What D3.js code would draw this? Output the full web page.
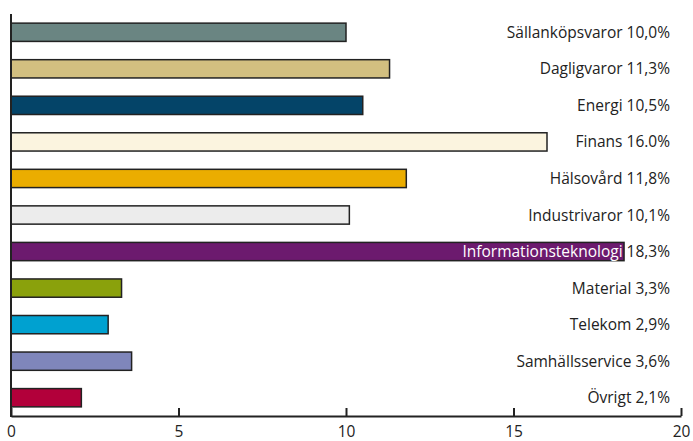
<!DOCTYPE html>
<html><head><meta charset="utf-8">
<script src="https://cdn.jsdelivr.net/npm/d3@7"></script>
<style>body{margin:0;background:#fff}svg{display:block}text{font-family:"Open Sans","Noto Sans",sans-serif}</style>
</head><body><div id="chart"></div>
<script>
const categories = ["Sällanköpsvaror","Dagligvaror","Energi","Finans","Hälsovård","Industrivaror","Informationsteknologi","Material","Telekom","Samhällsservice","Övrigt"];
const values = [10.0,11.3,10.5,16.0,11.8,10.1,18.3,3.3,2.9,3.6,2.1];
const valueLabels = ["10,0%","11,3%","10,5%","16.0%","11,8%","10,1%","18,3%","3,3%","2,9%","3,6%","2,1%"];
const colors = ["#6a8582","#d2bf80","#044468","#fbf4df","#ebad00","#ececec","#6c1a6e","#8aa10c","#00a1d0","#7f86bb","#b2003a"];
const xTicks = [0,5,10,15,20];

(function(){
const W=693,H=441, mL=11, mR=681, mT=14, mB=416;
const svg=d3.select("#chart").append("svg").attr("width",W).attr("height",H);
const x=d3.scaleLinear().domain([0,20]).range([mL,mR]);
const y=d3.scaleBand().domain(categories).range([mT,mB]).paddingInner(0.5).paddingOuter(0.25);

svg.selectAll("rect.bar").data(categories).join("rect").attr("class","bar")
  .attr("x",x(0)).attr("y",d=>y(d)).attr("width",(d,i)=>x(values[i])-x(0)).attr("height",y.bandwidth())
  .attr("fill",(d,i)=>colors[i]).attr("stroke","#222").attr("stroke-width",1.5);

const lab=svg.selectAll("text.lab").data(categories).join("text").attr("class","lab")
  .attr("x",670).attr("y",d=>y(d)+y.bandwidth()/2).attr("dy","0.36em").attr("text-anchor","end")
  .attr("font-size",15.5).attr("fill","#222");
lab.append("tspan").attr("fill",(d,i)=>d==="Informationsteknologi"?"#fff":"#222").text(d=>d+" ");
lab.append("tspan").text((d,i)=>valueLabels[i]);

svg.append("line").attr("x1",mL).attr("x2",mL).attr("y1",mT).attr("y2",mB+1).attr("stroke","#222").attr("stroke-width",2);
const xa=svg.append("g").attr("transform",`translate(0,${mB})`).call(d3.axisBottom(x).tickValues(xTicks).tickSize(0).tickPadding(10));
xa.select(".domain").attr("stroke","#222").attr("stroke-width",2);
xa.selectAll(".tick text").attr("font-size",15.5).attr("fill","#222").style("font-family",'"Open Sans","Noto Sans",sans-serif');
xa.selectAll(".tick").append("line").attr("y1",0).attr("y2",-8).attr("stroke","#222").attr("stroke-width",2);
})();
</script></body></html>
